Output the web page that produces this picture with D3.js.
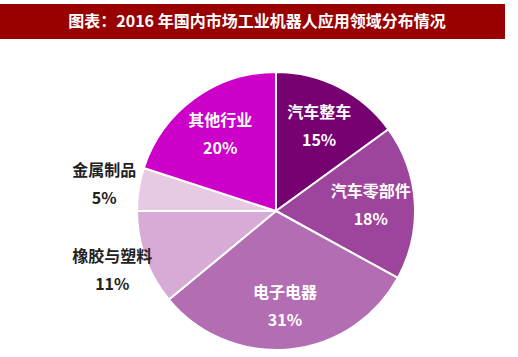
<!DOCTYPE html>
<html><head><meta charset="utf-8">
<script src="https://cdn.jsdelivr.net/npm/d3@7"></script>
<style>body{margin:0;background:#fff}svg{display:block}</style>
</head><body>
<script>
const titleText = "图表：2016 年国内市场工业机器人应用领域分布情况";
const categories = ["汽车整车","汽车零部件","电子电器","橡胶与塑料","金属制品","其他行业"];
const values = [15,18,31,11,5,20];
const colors = ["#760171","#9d449c","#b36db3","#d8abd6","#e8c9e4","#cc00c8"];
const outside = [false,false,false,true,true,false];

const W=518,H=357;
const svg=d3.select("body").append("svg").attr("width",W).attr("height",H);
const font='"Noto Sans CJK SC","Noto Sans",sans-serif';

svg.append("rect").attr("x",0).attr("y",4).attr("width",505).attr("height",35).attr("fill","#990000");
svg.append("text").attr("x",257).attr("y",27).attr("text-anchor","middle")
  .attr("fill","#fff").attr("font-family",font).attr("font-weight","bold").attr("font-size",16)
  .text(titleText);

const cx=276,cy=211,R=139;
const g=svg.append("g").attr("transform",`translate(${cx},${cy})`);
const data=categories.map((c,i)=>({name:c,value:values[i],color:colors[i],out:outside[i]}));
const pie=d3.pie().value(d=>d.value).sort(null);
const arcs=pie(data);
const arc=d3.arc().innerRadius(0).outerRadius(R);
g.selectAll("path").data(arcs).join("path").attr("d",arc).attr("fill",d=>d.data.color)
  .attr("stroke","#fff").attr("stroke-width",2).attr("stroke-linejoin","round");

const inArc=d3.arc().innerRadius(95).outerRadius(95);
const outArc=d3.arc().innerRadius(174).outerRadius(174);
const lab=g.selectAll("g.lab").data(arcs).join("g").attr("class","lab")
  .attr("transform",d=>{const p=(d.data.out?outArc:inArc).centroid(d);return `translate(${p[0]},${p[1]})`;});
lab.append("text").attr("y",-8).attr("text-anchor","middle")
  .attr("fill",d=>d.data.out?"#222":"#fff").attr("font-family",font).attr("font-weight","bold").attr("font-size",16)
  .text(d=>d.data.name);
lab.append("text").attr("y",20).attr("text-anchor","middle")
  .attr("fill",d=>d.data.out?"#222":"#fff").attr("font-family",font).attr("font-weight","bold").attr("font-size",16)
  .text(d=>d.data.value+"%");
</script>
</body></html>
